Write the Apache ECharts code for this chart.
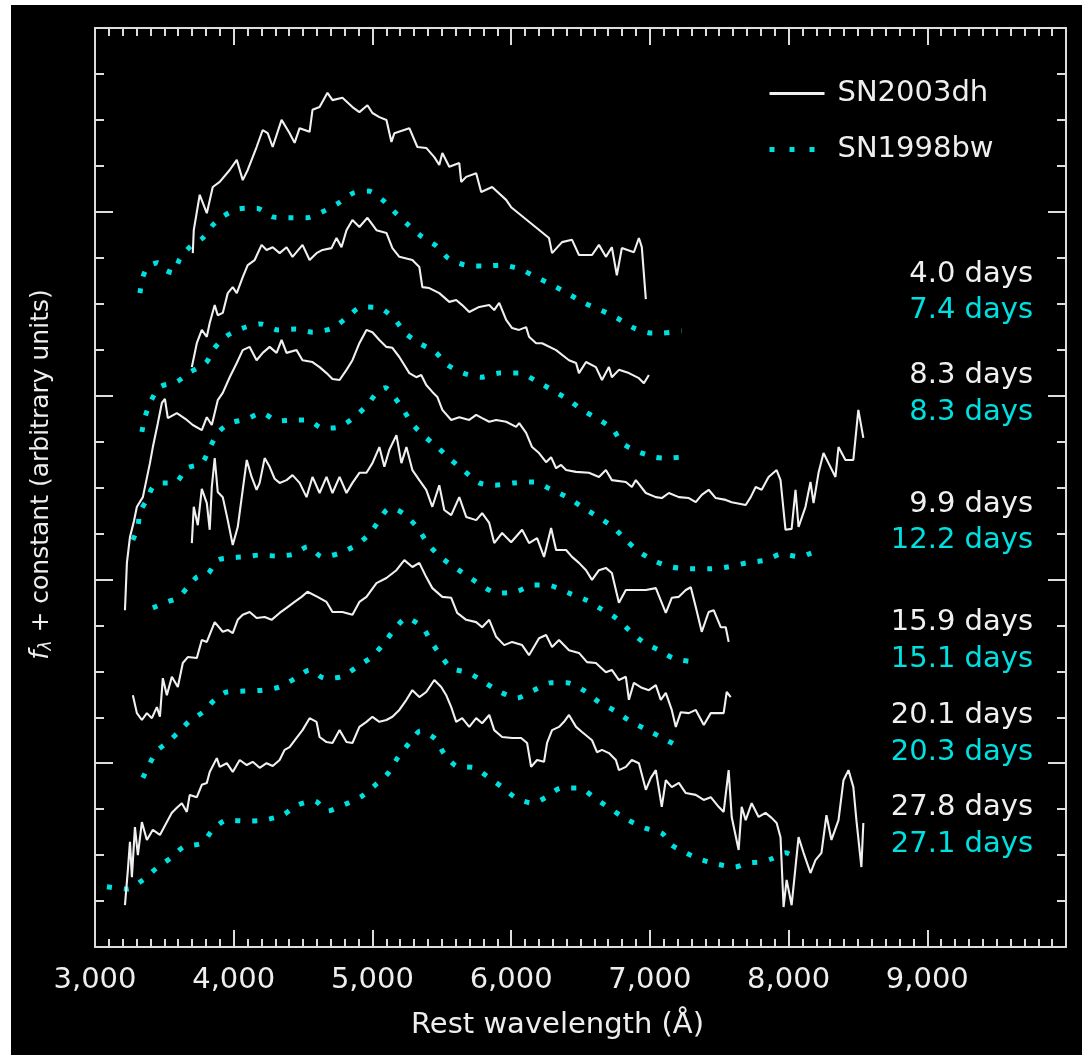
<!DOCTYPE html>
<html>
<head>
<meta charset="utf-8">
<script src="https://cdn.jsdelivr.net/npm/echarts@6/dist/echarts.min.js"></script>
<style>
html,body{margin:0;padding:0;background:#ffffff;}
#chart{position:absolute;left:11px;top:5px;width:1071px;height:1050px;background:#000;}
</style>
</head>
<body>
<div id="chart"></div>
<script>
// ---- DATA (wavelength in Å, flux + constant in arbitrary units) ----
const xTicks = [3000, 4000, 5000, 6000, 7000, 8000, 9000];

// SN2003dh spectra (white, solid)
const dh_4d0 = [[3705,15.10],[3712,15.60],[3755,16.37],[3806,15.97],[3849,16.54],[3899,16.65],[3971,16.91],[4022,17.13],[4065,16.69],[4101,16.91],[4165,17.41],[4209,17.78],[4245,17.71],[4281,17.41],[4345,18.00],[4403,17.71],[4439,17.50],[4475,17.82],[4547,17.74],[4568,18.22],[4619,18.28],[4676,18.59],[4712,18.43],[4784,18.48],[4856,18.28],[4906,18.17],[4964,18.32],[5000,18.15],[5050,18.06],[5101,18.00],[5137,17.52],[5158,17.71],[5266,17.82],[5324,17.41],[5388,17.39],[5446,17.19],[5482,17.02],[5504,17.28],[5554,16.98],[5626,17.06],[5640,16.65],[5676,16.76],[5748,16.84],[5784,16.43],[5863,16.54],[5964,16.26],[6000,16.10],[6273,15.43],[6295,15.10],[6367,15.34],[6439,15.39],[6489,15.06],[6583,15.06],[6633,15.28],[6683,15.02],[6726,15.23],[6762,14.62],[6798,15.21],[6885,15.12],[6921,15.43],[6942,15.23],[6971,14.10]];
const dh_8d3 = [[3698,12.62],[3734,13.14],[3770,13.43],[3806,13.28],[3827,13.58],[3863,13.97],[3885,13.75],[3921,13.80],[3957,14.23],[3993,14.36],[4022,14.23],[4065,14.58],[4101,14.84],[4151,14.95],[4201,15.28],[4237,15.17],[4281,15.23],[4331,15.10],[4381,15.23],[4424,15.02],[4496,15.28],[4547,14.95],[4597,15.10],[4640,15.17],[4705,15.21],[4741,15.43],[4777,15.23],[4813,15.60],[4856,15.82],[4906,15.67],[4964,15.87],[5029,15.60],[5101,15.54],[5144,15.21],[5194,15.02],[5288,14.95],[5338,14.80],[5360,14.36],[5410,14.34],[5482,14.23],[5554,14.04],[5604,14.08],[5647,13.97],[5698,13.82],[5770,13.93],[5842,13.97],[5878,13.86],[5914,14.02],[5964,13.65],[6007,13.47],[6057,13.43],[6108,13.49],[6129,13.28],[6180,13.14],[6223,13.14],[6324,12.99],[6417,12.77],[6468,12.71],[6489,12.49],[6540,12.73],[6611,12.62],[6655,12.34],[6705,12.62],[6726,12.40],[6777,12.56],[6849,12.49],[6921,12.38],[6957,12.27],[6993,12.45]];
const dh_9d9 = [[3216,7.33],[3230,8.36],[3252,8.92],[3281,9.27],[3302,9.58],[3345,9.79],[3396,10.53],[3417,10.88],[3453,11.40],[3482,11.84],[3504,11.93],[3525,11.51],[3590,11.62],[3662,11.47],[3705,11.36],[3770,11.25],[3806,11.53],[3842,11.36],[3885,11.90],[3921,12.06],[3971,12.40],[4022,12.71],[4065,12.99],[4115,13.06],[4165,12.77],[4209,12.93],[4259,13.06],[4309,12.93],[4345,13.21],[4381,12.93],[4453,12.99],[4496,12.77],[4568,12.73],[4619,12.62],[4669,12.49],[4712,12.36],[4763,12.34],[4813,12.56],[4856,12.77],[4906,13.14],[4957,13.43],[5000,13.38],[5050,13.21],[5101,13.06],[5144,13.04],[5194,12.84],[5266,12.49],[5316,12.40],[5352,12.45],[5388,12.23],[5432,12.08],[5468,11.97],[5504,11.69],[5568,11.47],[5626,11.53],[5698,11.47],[5748,11.58],[5791,11.51],[5842,11.43],[5892,11.47],[5964,11.43],[6036,11.32],[6058,11.40],[6108,11.19],[6151,10.88],[6201,10.75],[6252,10.55],[6288,10.66],[6324,10.42],[6360,10.49],[6396,10.38],[6468,10.34],[6561,10.32],[6633,10.23],[6683,10.38],[6726,10.16],[6827,10.12],[6870,10.01],[6899,10.16],[6971,9.88],[7043,9.79],[7086,9.77],[7137,9.88],[7209,9.79],[7281,9.77],[7331,9.68],[7374,9.84],[7424,9.95],[7475,9.77],[7547,9.73],[7590,9.68],[7691,9.62],[7727,9.79],[7763,10.01],[7806,9.95],[7856,10.23],[7914,10.38],[7942,10.16],[7978,9.08],[8022,9.10],[8050,9.95],[8072,9.14],[8122,9.58],[8158,10.12],[8180,9.66],[8216,10.32],[8252,10.75],[8288,10.53],[8338,10.23],[8360,10.88],[8410,10.60],[8467,10.60],[8503,11.69],[8539,11.08]];
const dh_15d9 = [[3698,8.79],[3712,9.58],[3741,9.18],[3770,9.97],[3806,9.66],[3827,9.08],[3842,10.01],[3863,10.64],[3885,9.90],[3921,9.79],[3957,9.29],[3993,8.75],[4029,9.14],[4065,9.95],[4094,10.60],[4129,10.23],[4165,9.95],[4187,10.10],[4223,10.64],[4259,10.45],[4295,10.19],[4331,10.10],[4381,10.16],[4424,10.27],[4475,10.10],[4525,9.79],[4568,10.23],[4619,9.88],[4669,10.23],[4712,9.88],[4763,10.23],[4813,9.88],[4856,10.10],[4906,10.32],[4957,10.32],[5000,10.53],[5050,10.88],[5086,10.45],[5122,10.82],[5173,11.14],[5209,10.53],[5245,10.88],[5288,10.38],[5338,10.16],[5388,9.95],[5432,9.58],[5482,10.05],[5518,9.51],[5568,9.40],[5626,9.79],[5676,9.36],[5748,9.29],[5791,9.44],[5842,9.23],[5878,8.79],[5935,9.01],[6000,8.81],[6079,9.08],[6129,8.79],[6187,8.90],[6237,8.49],[6288,9.12],[6324,8.64],[6396,8.64],[6439,8.49],[6489,8.36],[6540,8.20],[6583,7.99],[6633,8.20],[6683,8.25],[6726,8.14],[6777,7.49],[6827,7.77],[6899,7.77],[6971,7.77],[7043,7.81],[7115,7.27],[7158,7.60],[7209,7.62],[7259,7.77],[7295,7.83],[7331,7.40],[7374,6.86],[7424,7.29],[7460,7.33],[7511,6.96],[7547,6.96],[7568,6.64]];
const dh_20d1 = [[3273,5.48],[3302,5.09],[3338,4.94],[3374,5.09],[3410,4.98],[3446,5.22],[3468,5.01],[3489,5.85],[3518,5.48],[3554,5.88],[3597,5.66],[3633,6.18],[3669,6.31],[3734,6.29],[3770,6.68],[3806,6.64],[3863,7.07],[3921,6.86],[3957,6.90],[3993,6.83],[4029,7.12],[4065,7.23],[4115,7.29],[4165,7.16],[4223,7.18],[4273,7.12],[4331,7.27],[4381,7.38],[4439,7.51],[4489,7.62],[4532,7.73],[4604,7.62],[4669,7.51],[4712,7.29],[4784,7.29],[4856,7.23],[4906,7.51],[4957,7.62],[5029,7.92],[5101,8.03],[5173,8.20],[5230,8.42],[5288,8.27],[5338,8.36],[5388,8.05],[5432,7.81],[5504,7.62],[5568,7.60],[5611,7.27],[5676,7.12],[5748,7.07],[5791,6.96],[5842,7.12],[5892,6.75],[5950,6.57],[6007,6.64],[6079,6.57],[6129,6.35],[6201,6.72],[6252,6.79],[6295,6.53],[6345,6.68],[6417,6.46],[6489,6.40],[6547,6.20],[6611,6.18],[6683,5.98],[6726,6.03],[6777,5.81],[6827,5.88],[6849,5.38],[6885,5.75],[6942,5.64],[6993,5.59],[7043,5.70],[7079,5.38],[7115,5.53],[7158,5.16],[7187,4.79],[7223,5.11],[7281,5.09],[7331,5.16],[7389,4.83],[7439,5.09],[7532,5.09],[7554,5.55],[7583,5.44]];
const dh_27d8 = [[3216,0.91],[3237,1.68],[3252,2.29],[3266,1.52],[3288,2.61],[3309,2.00],[3338,2.72],[3374,2.33],[3417,2.55],[3468,2.44],[3518,2.72],[3554,2.92],[3590,3.03],[3626,3.13],[3662,2.94],[3683,3.31],[3734,3.26],[3770,3.53],[3806,3.57],[3827,3.81],[3878,4.11],[3899,3.92],[3950,4.00],[3993,3.81],[4043,4.07],[4094,3.96],[4137,4.03],[4187,3.90],[4237,4.00],[4281,3.94],[4331,4.07],[4367,4.29],[4403,4.35],[4453,4.55],[4496,4.72],[4547,4.98],[4597,4.90],[4619,4.57],[4669,4.46],[4712,4.44],[4763,4.72],[4813,4.46],[4856,4.44],[4906,4.79],[4957,4.90],[5000,5.01],[5050,4.90],[5101,4.94],[5144,5.01],[5194,5.16],[5245,5.38],[5288,5.59],[5338,5.44],[5388,5.55],[5446,5.81],[5496,5.66],[5532,5.48],[5568,5.22],[5604,4.90],[5647,4.98],[5698,4.79],[5748,4.98],[5791,4.87],[5842,5.05],[5878,4.72],[5935,4.57],[6007,4.55],[6072,4.55],[6115,4.44],[6144,3.92],[6187,4.07],[6237,4.03],[6259,4.44],[6295,4.72],[6345,4.79],[6381,4.90],[6417,5.05],[6468,4.79],[6511,4.68],[6583,4.50],[6619,4.24],[6655,4.29],[6705,4.22],[6755,4.07],[6777,3.85],[6827,3.92],[6870,4.07],[6921,4.00],[6971,3.42],[7007,3.68],[7043,3.85],[7086,3.05],[7115,3.63],[7158,3.48],[7209,3.57],[7259,3.35],[7331,3.31],[7388,3.20],[7439,3.26],[7496,3.05],[7532,2.94],[7568,3.85],[7590,2.83],[7640,2.11],[7662,3.05],[7691,2.76],[7734,3.13],[7784,2.83],[7834,2.92],[7878,2.81],[7914,2.70],[7942,2.39],[7964,0.87],[7986,1.46],[8022,0.91],[8050,1.74],[8072,2.39],[8108,2.05],[8158,1.61],[8194,1.89],[8237,2.05],[8273,2.87],[8309,2.33],[8360,2.76],[8396,3.63],[8432,3.85],[8467,3.48],[8489,2.76],[8525,1.74],[8539,2.70]];

// SN1998bw spectra (cyan, dotted)
const bw_7d4 = [[3324,14.23],[3345,14.58],[3381,14.80],[3453,14.89],[3489,14.76],[3561,14.67],[3611,14.97],[3683,15.23],[3777,15.43],[3849,15.71],[3928,15.91],[4029,16.06],[4165,16.08],[4281,15.89],[4396,15.87],[4525,15.87],[4640,16.00],[4755,16.19],[4863,16.41],[4971,16.45],[5072,16.26],[5158,16.00],[5252,15.73],[5352,15.47],[5460,15.26],[5547,14.99],[5669,14.84],[5806,14.82],[5928,14.84],[6057,14.76],[6180,14.58],[6295,14.41],[6403,14.23],[6525,14.02],[6647,13.86],[6762,13.69],[6885,13.47],[7014,13.36],[7086,13.36],[7230,13.41]];
const bw_8d3 = [[3338,11.21],[3360,11.53],[3403,11.88],[3468,12.19],[3590,12.30],[3683,12.51],[3799,12.71],[3863,13.04],[3950,13.30],[4065,13.47],[4194,13.56],[4317,13.43],[4446,13.45],[4568,13.38],[4712,13.47],[4813,13.69],[4921,13.93],[5050,13.91],[5158,13.67],[5237,13.36],[5338,13.14],[5453,12.95],[5540,12.67],[5655,12.49],[5784,12.40],[5914,12.49],[6057,12.49],[6180,12.32],[6295,12.12],[6403,11.93],[6511,11.69],[6626,11.49],[6734,11.27],[6798,10.97],[6906,10.79],[7036,10.66],[7101,10.64],[7230,10.66]];
const bw_12d2 = [[3273,8.86],[3309,9.14],[3324,9.47],[3374,9.73],[3417,10.01],[3489,10.10],[3576,10.10],[3662,10.42],[3770,10.53],[3827,10.86],[3885,11.19],[3971,11.40],[4094,11.49],[4201,11.62],[4317,11.45],[4439,11.47],[4532,11.47],[4640,11.29],[4763,11.32],[4870,11.53],[4964,11.80],[5036,12.08],[5094,12.17],[5158,11.97],[5223,11.69],[5288,11.38],[5381,11.10],[5475,10.86],[5568,10.60],[5669,10.34],[5770,10.10],[5885,10.05],[6021,10.10],[6165,10.12],[6280,9.97],[6403,9.79],[6511,9.58],[6626,9.36],[6734,9.14],[6827,8.86],[6914,8.62],[7036,8.40],[7158,8.27],[7288,8.23],[7424,8.23],[7561,8.27],[7698,8.36],[7834,8.42],[7949,8.55],[8086,8.49],[8144,8.55],[8237,8.64]];
const bw_15d1 = [[3417,7.38],[3518,7.51],[3597,7.60],[3662,7.81],[3734,8.05],[3813,8.12],[3885,8.42],[3978,8.47],[4072,8.49],[4187,8.53],[4309,8.51],[4432,8.55],[4532,8.71],[4640,8.49],[4763,8.57],[4885,8.75],[4978,8.99],[5050,9.29],[5115,9.53],[5180,9.51],[5245,9.38],[5331,9.10],[5396,8.79],[5489,8.49],[5590,8.27],[5698,8.05],[5806,7.83],[5899,7.70],[6036,7.73],[6165,7.88],[6288,7.86],[6417,7.70],[6540,7.55],[6647,7.36],[6755,7.16],[6849,6.90],[6950,6.64],[7065,6.46],[7180,6.27],[7338,6.20]];
const bw_20d3 = [[3345,3.68],[3396,4.00],[3446,4.27],[3518,4.44],[3597,4.66],[3683,4.92],[3777,5.11],[3863,5.38],[3950,5.55],[4079,5.57],[4209,5.59],[4331,5.66],[4446,5.85],[4547,6.03],[4655,5.85],[4777,5.88],[4885,6.09],[4993,6.31],[5072,6.57],[5151,6.88],[5245,7.16],[5360,6.96],[5424,6.64],[5496,6.33],[5568,6.07],[5698,5.96],[5813,5.75],[5921,5.55],[6043,5.42],[6165,5.59],[6288,5.75],[6403,5.75],[6532,5.57],[6633,5.33],[6748,5.14],[6856,4.92],[6971,4.74],[7101,4.53],[7230,4.33]];
const bw_27d1 = [[3086,1.31],[3158,1.28],[3237,1.26],[3345,1.46],[3446,1.72],[3547,1.94],[3640,2.18],[3770,2.26],[3849,2.55],[3950,2.76],[4094,2.74],[4216,2.76],[4353,2.87],[4460,3.09],[4583,3.18],[4676,2.96],[4806,3.11],[4928,3.29],[5029,3.55],[5115,3.79],[5180,4.11],[5266,4.44],[5345,4.70],[5453,4.53],[5518,4.20],[5604,3.94],[5734,3.90],[5834,3.70],[5935,3.48],[6036,3.24],[6158,3.13],[6252,3.26],[6360,3.46],[6489,3.46],[6604,3.24],[6705,3.03],[6827,2.79],[6964,2.59],[7086,2.48],[7158,2.22],[7244,2.07],[7352,1.92],[7475,1.81],[7611,1.74],[7712,1.83],[7798,1.85],[7878,1.92],[7978,2.05],[8057,1.94]];

const dhSpectra = [dh_4d0, dh_8d3, dh_9d9, dh_15d9, dh_20d1, dh_27d8];
const bwSpectra = [bw_7d4, bw_8d3, bw_12d2, bw_15d1, bw_20d3, bw_27d1];
const dhEpochs = ['4.0 days', '8.3 days', '9.9 days', '15.9 days', '20.1 days', '27.8 days'];
const bwEpochs = ['7.4 days', '8.3 days', '12.2 days', '15.1 days', '20.3 days', '27.1 days'];
const seriesNames = ['SN2003dh', 'SN1998bw'];

// ---- STYLE ----
const FONT = 'DejaVu Sans';
const WHITE = '#f0f0f0';
const CYAN = '#00e0e0';
const AXIS = '#dddddd';

const chart = echarts.init(document.getElementById('chart'), null, {renderer: 'canvas'});

function fmt(v) {
  if (xTicks.indexOf(v) < 0) return '';
  return String(v).replace(/\B(?=(\d{3})+(?!\d))/g, ',');
}

const series = [];
dhSpectra.forEach(function (d) {
  series.push({
    name: seriesNames[0], type: 'line', data: d, xAxisIndex: 0, yAxisIndex: 0,
    symbol: 'none', showSymbol: false, silent: true, z: 3,
    itemStyle: {color: WHITE},
    lineStyle: {color: WHITE, width: 2.1}
  });
});
bwSpectra.forEach(function (d) {
  series.push({
    name: seriesNames[1], type: 'line', data: d, xAxisIndex: 0, yAxisIndex: 0,
    symbol: 'none', showSymbol: false, silent: true, smooth: 0.25, z: 2,
    itemStyle: {color: CYAN},
    lineStyle: {color: CYAN, width: 5, type: [5, 12], cap: 'butt'}
  });
});

function xAxisCfg(pos, showLabel) {
  return {
    type: 'value', position: pos, min: 3000, max: 10000, interval: 1000,
    axisLine: {show: true, onZero: false, lineStyle: {color: AXIS, width: 2}},
    axisTick: {show: true, inside: true, length: 17, lineStyle: {color: AXIS, width: 2}},
    minorTick: {show: true, splitNumber: 10, length: 8, lineStyle: {color: AXIS, width: 2}},
    splitLine: {show: false}, minorSplitLine: {show: false},
    axisLabel: {show: showLabel, formatter: fmt, color: '#eeeeee', fontFamily: FONT, fontSize: 29, margin: 19},
    name: showLabel ? 'Rest wavelength (Å)' : '',
    nameLocation: 'middle', nameGap: 64,
    nameTextStyle: {color: '#eeeeee', fontFamily: FONT, fontSize: 29, padding: [0, 46, 0, 0]}
  };
}
function yAxisCfg(pos, showName) {
  return {
    type: 'value', position: pos, min: 0, max: 20, interval: 4,
    axisLine: {show: true, onZero: false, lineStyle: {color: AXIS, width: 2}},
    axisTick: {show: true, inside: true, length: 18, lineStyle: {color: AXIS, width: 2}},
    minorTick: {show: true, splitNumber: 4, length: 9, lineStyle: {color: AXIS, width: 2}},
    splitLine: {show: false}, minorSplitLine: {show: false},
    axisLabel: {show: false},
    name: showName ? '{f|f}{s|λ}{n| + constant (arbitrary units)}' : '',
    nameLocation: 'middle', nameGap: 40, nameRotate: 90,
    nameTextStyle: {
      color: '#eeeeee', fontFamily: FONT, fontSize: 25, padding: [0, 0, 0, 26],
      rich: {
        f: {fontFamily: FONT, fontSize: 26, fontStyle: 'italic', color: '#eeeeee'},
        s: {fontFamily: FONT, fontSize: 17, fontStyle: 'italic', color: '#eeeeee', padding: [10, 0, 0, 0]},
        n: {fontFamily: FONT, fontSize: 25, color: '#eeeeee'}
      }
    }
  };
}

const labelY = [272, 373, 502, 620, 713, 805];
const labelY2 = [308, 410, 538, 657, 750, 842];
const graphics = [];
dhEpochs.forEach(function (t, i) {
  graphics.push({type: 'text', right: 49, top: labelY[i] - 17, style: {text: t, fill: WHITE, font: '29px "DejaVu Sans"', textAlign: 'right'}});
});
bwEpochs.forEach(function (t, i) {
  graphics.push({type: 'text', right: 49, top: labelY2[i] - 17, style: {text: t, fill: CYAN, font: '29px "DejaVu Sans"', textAlign: 'right'}});
});

chart.setOption({
  backgroundColor: '#000000',
  animation: false,
  grid: {left: 84, right: 16, top: 23, bottom: 108, containLabel: false},
  xAxis: [xAxisCfg('bottom', true), xAxisCfg('top', false)],
  yAxis: [yAxisCfg('left', true), yAxisCfg('right', false)],
  legend: {
    show: true, orient: 'vertical', left: 756, top: 74, padding: 0,
    itemWidth: 55, itemHeight: 14, itemGap: 27,
    itemStyle: {opacity: 0},
    textStyle: {color: '#eeeeee', fontFamily: FONT, fontSize: 29, padding: [0, 0, 0, 8]},
    data: [
      {name: seriesNames[0], itemStyle: {opacity: 0}, lineStyle: {width: 3, color: WHITE}},
      {name: seriesNames[1], itemStyle: {opacity: 0}, lineStyle: {type: [5, 15], width: 5, color: CYAN}}
    ],
    selectedMode: false
  },
  graphic: graphics,
  series: series
});
</script>
</body>
</html>
